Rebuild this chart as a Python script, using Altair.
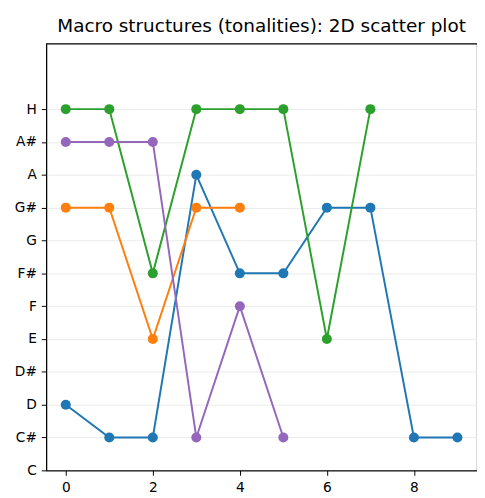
import altair as alt
import pandas as pd

notes = ['C', 'C#', 'D', 'D#', 'E', 'F', 'F#', 'G', 'G#', 'A', 'A#', 'H']
series_names = ['s0', 's1', 's2', 's3']
series_colors = ['#1f77b4', '#ff7f0e', '#2ca02c', '#9467bd']
blue = ['D', 'C#', 'C#', 'A', 'F#', 'F#', 'G#', 'G#', 'C#', 'C#']
orange = ['G#', 'G#', 'E', 'G#', 'G#']
green = ['H', 'H', 'F#', 'H', 'H', 'H', 'E', 'H']
purple = ['A#', 'A#', 'A#', 'C#', 'F', 'C#']
x_ticks = [0, 2, 4, 6, 8]

series = [blue, orange, green, purple]
rows = []
for name, vals in zip(series_names, series):
    for i, n in enumerate(vals):
        rows.append({'series': name, 'x': i, 'y': notes.index(n), 'note': n})
df = pd.DataFrame(rows)

label_arr = "[" + ",".join("'" + n + "'" for n in notes) + "]"

xscale = alt.Scale(domain=[-0.45, 9.45], nice=False, zero=False)
yscale = alt.Scale(domain=[0, 13], nice=False, zero=False)
xaxis = alt.Axis(values=x_ticks, grid=False, title=None, labelFontSize=14,
                 labelColor='black', tickColor='black', domainColor='black',
                 tickSize=5, labelPadding=6, labelFont='DejaVu Sans')
yaxis = alt.Axis(values=list(range(len(notes))), labelExpr=label_arr + "[datum.value]",
                 grid=True, gridColor='#ebebeb', gridWidth=1, title=None,
                 labelFontSize=14, labelColor='black', tickColor='black',
                 domainColor='black', tickSize=5, labelPadding=5,
                 labelFont='DejaVu Sans')

layers = []
for name, col in zip(series_names, series_colors):
    base = alt.Chart(df).transform_filter(alt.datum.series == name)
    enc = dict(x=alt.X('x:Q', scale=xscale, axis=xaxis),
               y=alt.Y('y:Q', scale=yscale, axis=yaxis))
    layers.append(base.mark_line(color=col, strokeWidth=2).encode(**enc))
    layers.append(base.mark_circle(color=col, size=105, opacity=1).encode(**enc))

chart = alt.layer(*layers).properties(
    width=440, height=436,
    title=alt.TitleParams('Macro structures (tonalities): 2D scatter plot',
                          fontSize=18.8, font='DejaVu Sans', fontWeight='normal',
                          color='black', offset=8, anchor='middle'),
    autosize=alt.AutoSizeParams(type='none'),
    padding={'left': 39, 'top': 31, 'right': 0, 'bottom': 23},
).configure_view(stroke='black', strokeWidth=1.1)

chart.save("out.html", embed_options={"renderer": "svg", "actions": False})
